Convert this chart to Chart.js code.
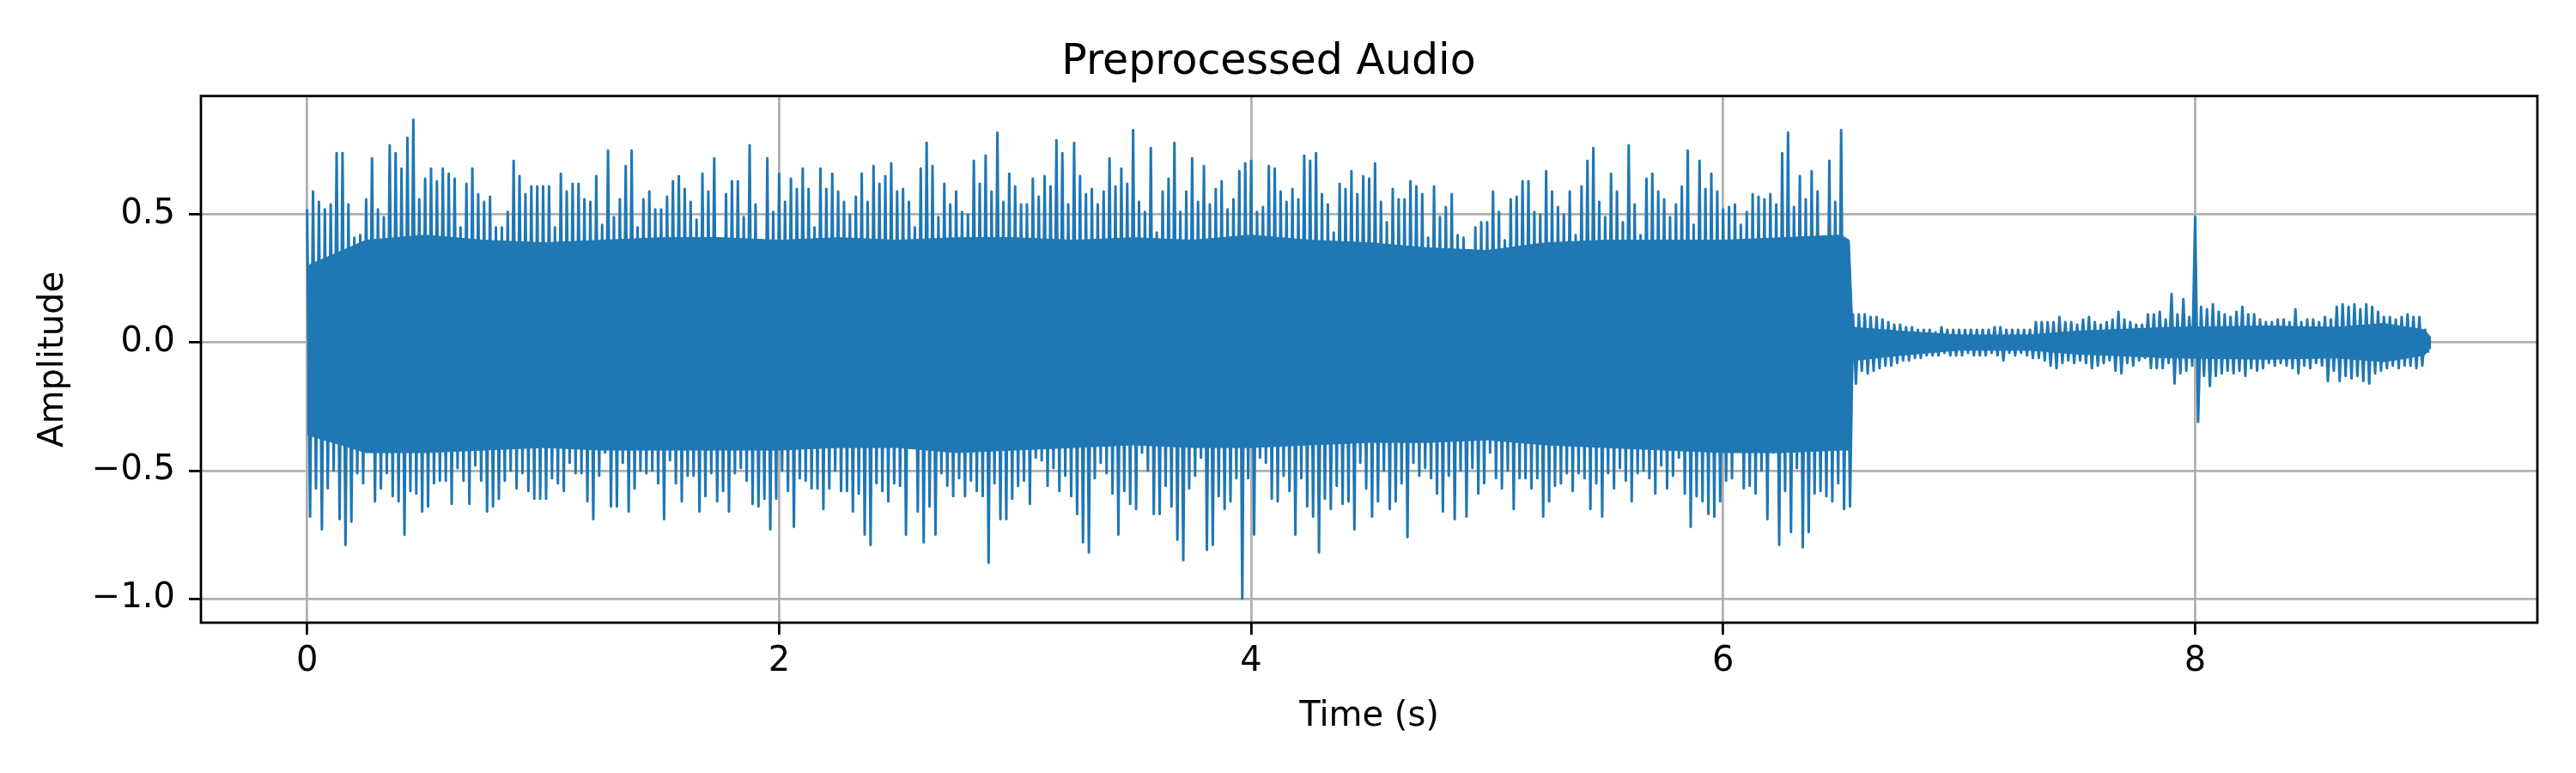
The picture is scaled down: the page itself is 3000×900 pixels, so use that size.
<!DOCTYPE html>
<html>
<head>
<meta charset="utf-8">
<title>Preprocessed Audio</title>
<script src="https://cdn.jsdelivr.net/npm/chart.js@4.4.1/dist/chart.umd.min.js"></script>
<style>
  html, body { margin: 0; padding: 0; background: #fff; }
  #wrap { width: 3000px; height: 900px; }
</style>
</head>
<body>
<div id="wrap"><canvas id="myChart" width="3000" height="900"></canvas></div>
<script>
// peak envelope, one max/min pair per 25 ms bin (0 .. 9 s)
var STEP = 0.025;

var UPPER = [
    0.52, 0.59, 0.55, 0.52, 0.54, 0.74, 0.74, 0.54, 0.41, 0.42,
    0.56, 0.72, 0.52, 0.49, 0.77, 0.74, 0.68, 0.80, 0.87, 0.56,
    0.64, 0.68, 0.63, 0.68, 0.66, 0.64, 0.45, 0.62, 0.68, 0.58,
    0.55, 0.57, 0.45, 0.45, 0.51, 0.71, 0.65, 0.58, 0.61, 0.61,
    0.61, 0.61, 0.45, 0.66, 0.59, 0.62, 0.62, 0.56, 0.55, 0.65,
    0.46, 0.75, 0.49, 0.56, 0.69, 0.75, 0.45, 0.56, 0.59, 0.52,
    0.52, 0.57, 0.63, 0.65, 0.60, 0.55, 0.48, 0.66, 0.59, 0.72,
    0.40, 0.58, 0.63, 0.63, 0.49, 0.77, 0.54, 0.40, 0.72, 0.51,
    0.66, 0.55, 0.64, 0.60, 0.68, 0.60, 0.45, 0.68, 0.60, 0.66,
    0.59, 0.55, 0.50, 0.57, 0.66, 0.55, 0.69, 0.62, 0.65, 0.70,
    0.59, 0.60, 0.55, 0.45, 0.68, 0.78, 0.69, 0.49, 0.62, 0.54,
    0.59, 0.51, 0.50, 0.71, 0.62, 0.73, 0.59, 0.82, 0.55, 0.66,
    0.61, 0.54, 0.54, 0.64, 0.57, 0.65, 0.61, 0.79, 0.74, 0.54,
    0.78, 0.65, 0.58, 0.60, 0.54, 0.59, 0.72, 0.61, 0.68, 0.62,
    0.83, 0.55, 0.51, 0.76, 0.43, 0.59, 0.64, 0.78, 0.51, 0.59,
    0.72, 0.55, 0.69, 0.54, 0.60, 0.63, 0.52, 0.56, 0.67, 0.70,
    0.71, 0.51, 0.53, 0.69, 0.68, 0.59, 0.55, 0.60, 0.56, 0.73,
    0.71, 0.74, 0.58, 0.54, 0.43, 0.62, 0.60, 0.67, 0.58, 0.65,
    0.64, 0.70, 0.55, 0.47, 0.60, 0.56, 0.56, 0.63, 0.61, 0.58,
    0.41, 0.61, 0.49, 0.53, 0.58, 0.42, 0.41, 0.36, 0.45, 0.47,
    0.47, 0.59, 0.51, 0.40, 0.56, 0.57, 0.63, 0.63, 0.51, 0.50,
    0.67, 0.59, 0.53, 0.50, 0.59, 0.42, 0.61, 0.71, 0.76, 0.55,
    0.49, 0.66, 0.59, 0.47, 0.77, 0.54, 0.42, 0.64, 0.66, 0.59,
    0.56, 0.49, 0.54, 0.61, 0.75, 0.46, 0.71, 0.60, 0.66, 0.59,
    0.52, 0.53, 0.54, 0.46, 0.51, 0.58, 0.57, 0.56, 0.58, 0.54,
    0.74, 0.82, 0.53, 0.65, 0.56, 0.67, 0.59, 0.41, 0.71, 0.55,
    0.83, 0.38, 0.11, 0.11, 0.11, 0.10, 0.10, 0.09, 0.08, 0.07,
    0.07, 0.06, 0.06, 0.05, 0.05, 0.05, 0.04, 0.06, 0.05, 0.05,
    0.05, 0.05, 0.05, 0.05, 0.05, 0.05, 0.06, 0.06, 0.05, 0.05,
    0.05, 0.05, 0.05, 0.08, 0.08, 0.08, 0.08, 0.10, 0.08, 0.08,
    0.07, 0.09, 0.10, 0.08, 0.07, 0.08, 0.09, 0.12, 0.09, 0.08,
    0.07, 0.07, 0.11, 0.11, 0.12, 0.09, 0.19, 0.11, 0.17, 0.10,
    0.49, 0.14, 0.13, 0.15, 0.12, 0.11, 0.10, 0.12, 0.14, 0.11,
    0.11, 0.09, 0.08, 0.08, 0.09, 0.09, 0.08, 0.13, 0.08, 0.09,
    0.09, 0.08, 0.10, 0.09, 0.14, 0.15, 0.14, 0.15, 0.13, 0.15,
    0.14, 0.12, 0.10, 0.10, 0.09, 0.10, 0.11, 0.10, 0.10, 0.05
];

var LOWER = [
    -0.68, -0.57, -0.73, -0.57, -0.50, -0.69, -0.79, -0.70, -0.51, -0.55,
    -0.40, -0.62, -0.57, -0.51, -0.60, -0.62, -0.75, -0.58, -0.59, -0.66,
    -0.64, -0.55, -0.54, -0.54, -0.63, -0.49, -0.54, -0.63, -0.48, -0.54,
    -0.66, -0.64, -0.61, -0.54, -0.50, -0.57, -0.51, -0.58, -0.61, -0.61,
    -0.61, -0.53, -0.55, -0.58, -0.47, -0.51, -0.51, -0.62, -0.69, -0.52,
    -0.43, -0.64, -0.64, -0.47, -0.66, -0.57, -0.50, -0.51, -0.50, -0.55,
    -0.69, -0.46, -0.55, -0.62, -0.52, -0.52, -0.66, -0.60, -0.51, -0.62,
    -0.58, -0.66, -0.51, -0.49, -0.54, -0.63, -0.64, -0.61, -0.73, -0.61,
    -0.50, -0.58, -0.72, -0.53, -0.54, -0.57, -0.57, -0.65, -0.57, -0.50,
    -0.58, -0.58, -0.66, -0.59, -0.75, -0.79, -0.55, -0.58, -0.62, -0.55,
    -0.56, -0.75, -0.40, -0.66, -0.78, -0.64, -0.75, -0.51, -0.56, -0.60,
    -0.53, -0.60, -0.54, -0.58, -0.60, -0.86, -0.55, -0.69, -0.69, -0.61,
    -0.56, -0.54, -0.63, -0.45, -0.46, -0.56, -0.49, -0.58, -0.52, -0.60,
    -0.67, -0.78, -0.82, -0.53, -0.47, -0.51, -0.59, -0.75, -0.58, -0.63,
    -0.65, -0.43, -0.50, -0.67, -0.67, -0.56, -0.64, -0.77, -0.85, -0.57,
    -0.52, -0.45, -0.81, -0.79, -0.60, -0.65, -0.62, -0.53, -1.00, -0.53,
    -0.75, -0.45, -0.47, -0.61, -0.62, -0.52, -0.58, -0.75, -0.53, -0.64,
    -0.68, -0.82, -0.61, -0.65, -0.56, -0.63, -0.62, -0.73, -0.47, -0.57,
    -0.68, -0.62, -0.50, -0.65, -0.62, -0.55, -0.76, -0.47, -0.52, -0.49,
    -0.53, -0.59, -0.66, -0.52, -0.69, -0.50, -0.68, -0.49, -0.59, -0.55,
    -0.43, -0.53, -0.57, -0.50, -0.65, -0.53, -0.53, -0.57, -0.53, -0.68,
    -0.62, -0.56, -0.55, -0.51, -0.58, -0.51, -0.53, -0.65, -0.55, -0.68,
    -0.51, -0.57, -0.49, -0.54, -0.62, -0.51, -0.50, -0.53, -0.59, -0.48,
    -0.57, -0.52, -0.45, -0.59, -0.72, -0.60, -0.62, -0.67, -0.68, -0.62,
    -0.54, -0.53, -0.41, -0.57, -0.56, -0.59, -0.50, -0.69, -0.43, -0.79,
    -0.58, -0.74, -0.49, -0.80, -0.74, -0.59, -0.58, -0.60, -0.62, -0.55,
    -0.65, -0.64, -0.16, -0.11, -0.12, -0.11, -0.10, -0.09, -0.09, -0.08,
    -0.07, -0.07, -0.06, -0.06, -0.05, -0.05, -0.05, -0.04, -0.05, -0.05,
    -0.05, -0.04, -0.05, -0.05, -0.05, -0.04, -0.05, -0.07, -0.04, -0.05,
    -0.04, -0.05, -0.06, -0.06, -0.07, -0.09, -0.10, -0.08, -0.07, -0.08,
    -0.07, -0.08, -0.10, -0.09, -0.08, -0.07, -0.11, -0.12, -0.08, -0.09,
    -0.07, -0.06, -0.10, -0.10, -0.10, -0.08, -0.16, -0.12, -0.11, -0.09,
    -0.31, -0.13, -0.17, -0.13, -0.12, -0.11, -0.12, -0.11, -0.13, -0.10,
    -0.11, -0.10, -0.08, -0.09, -0.08, -0.09, -0.10, -0.12, -0.09, -0.10,
    -0.08, -0.09, -0.15, -0.11, -0.15, -0.13, -0.14, -0.13, -0.15, -0.16,
    -0.12, -0.11, -0.10, -0.09, -0.10, -0.09, -0.09, -0.10, -0.09, -0.04
];

// edge of the dense band in the middle of the waveform
var CORE_T  = [0, 0.25, 0.5, 0.75, 1.0, 1.25, 1.5, 1.75, 2.0, 2.25, 2.5, 2.75, 3.0, 3.25,
               3.5, 3.75, 4.0, 4.25, 4.5, 4.75, 5.0, 5.25, 5.5, 5.75, 6.0, 6.25, 6.5, 6.535,
               6.55, 6.75, 7.0, 7.3, 7.5, 7.9, 8.3, 8.6, 8.8, 8.97, 9.0];
var CORE_HI = [0.30, 0.40, 0.42, 0.40, 0.39, 0.40, 0.41, 0.41, 0.40, 0.41, 0.40, 0.41, 0.41, 0.40,
               0.41, 0.40, 0.42, 0.40, 0.39, 0.37, 0.36, 0.39, 0.40, 0.40, 0.40, 0.41, 0.42, 0.40,
               0.06, 0.045, 0.03, 0.03, 0.045, 0.06, 0.065, 0.06, 0.075, 0.05, 0.02];
var CORE_LO = [-0.36, -0.43, -0.43, -0.42, -0.41, -0.42, -0.42, -0.42, -0.42, -0.41, -0.41, -0.43, -0.42, -0.41,
               -0.40, -0.41, -0.41, -0.40, -0.39, -0.39, -0.38, -0.40, -0.41, -0.42, -0.43, -0.43, -0.42, -0.42,
               -0.07, -0.05, -0.03, -0.03, -0.045, -0.06, -0.065, -0.06, -0.075, -0.05, -0.02];

var X_TICKS = [0, 2, 4, 6, 8];
var Y_TICKS = [-1.0, -0.5, 0.0, 0.5];
var Y_TICK_LABELS = ['\u22121.0', '\u22120.5', '0.0', '0.5'];

var BLUE = '#1f77b4';
var GRID = '#b0b0b0';

function wavePoints() {
    var pts = [];
    for (var k = 0; k < UPPER.length; k++) {
        pts.push({x: k * STEP, y: UPPER[k]});
        pts.push({x: k * STEP + STEP / 2, y: LOWER[k]});
    }
    return pts;
}

function corePoints(vals) {
    return CORE_T.map(function(t, i) { return {x: t, y: vals[i]}; });
}

// matplotlib draws a frame on all four sides
var frame = {
    id: 'frame',
    afterDraw: function(chart) {
        var a = chart.chartArea, ctx = chart.ctx;
        ctx.save();
        ctx.strokeStyle = '#000';
        ctx.lineWidth = 2.8;
        ctx.strokeRect(a.left, a.top, a.right - a.left, a.bottom - a.top);
        ctx.restore();
    }
};

Chart.defaults.font.family = '"DejaVu Sans", "Liberation Sans", sans-serif';
Chart.defaults.color = '#000';

var ctx = document.getElementById('myChart').getContext('2d');
var myChart = new Chart(ctx, {
    type: 'line',
    data: {
        datasets: [{
            data: corePoints(CORE_HI),
            borderColor: BLUE,
            borderWidth: 1,
            pointRadius: 0,
            fill: false
        }, {
            data: corePoints(CORE_LO),
            borderColor: BLUE,
            borderWidth: 1,
            backgroundColor: BLUE,
            pointRadius: 0,
            fill: '-1'
        }, {
            data: wavePoints(),
            borderColor: BLUE,
            backgroundColor: BLUE,
            borderWidth: 3.0,
            borderJoinStyle: 'round',
            pointRadius: 0,
            tension: 0,
            fill: 'origin'
        }]
    },
    options: {
        responsive: false,
        animation: false,
        devicePixelRatio: 1,
        layout: { padding: { top: 0, right: 45, bottom: 0, left: 0 } },
        plugins: {
            legend: { display: false },
            tooltip: { enabled: false },
            title: {
                display: true,
                text: 'Preprocessed Audio',
                color: '#000',
                font: { size: 49, weight: 'normal' },
                padding: { top: 44, bottom: 9 }
            }
        },
        scales: {
            x: {
                type: 'linear',
                min: -0.45,
                max: 9.45,
                afterBuildTicks: function(s) {
                    s.ticks = X_TICKS.map(function(v) { return {value: v}; });
                },
                afterFit: function(s) { s.height = 175; },
                grid: { color: GRID, lineWidth: 2.8, tickLength: 14, tickColor: '#000', tickWidth: 2.8 },
                border: { display: false },
                ticks: {
                    font: { size: 40 },
                    padding: 8,
                    maxRotation: 0,
                    autoSkip: false,
                    callback: function(v) { return String(v); }
                },
                title: { display: true, text: 'Time (s)', font: { size: 40 }, padding: { top: 0, bottom: 41 } }
            },
            y: {
                type: 'linear',
                min: -1.094,
                max: 0.963,
                afterBuildTicks: function(s) {
                    s.ticks = Y_TICKS.map(function(v) { return {value: v}; });
                },
                afterFit: function(s) { s.width = 234; },
                grid: { color: GRID, lineWidth: 2.8, tickLength: 14, tickColor: '#000', tickWidth: 2.8 },
                border: { display: false },
                ticks: {
                    font: { size: 40 },
                    padding: 16,
                    autoSkip: false,
                    callback: function(v, i) { return Y_TICK_LABELS[i]; }
                },
                title: { display: true, text: 'Amplitude', font: { size: 40 }, padding: { top: 39, bottom: 0 } }
            }
        }
    },
    plugins: [frame]
});
</script>
</body>
</html>
